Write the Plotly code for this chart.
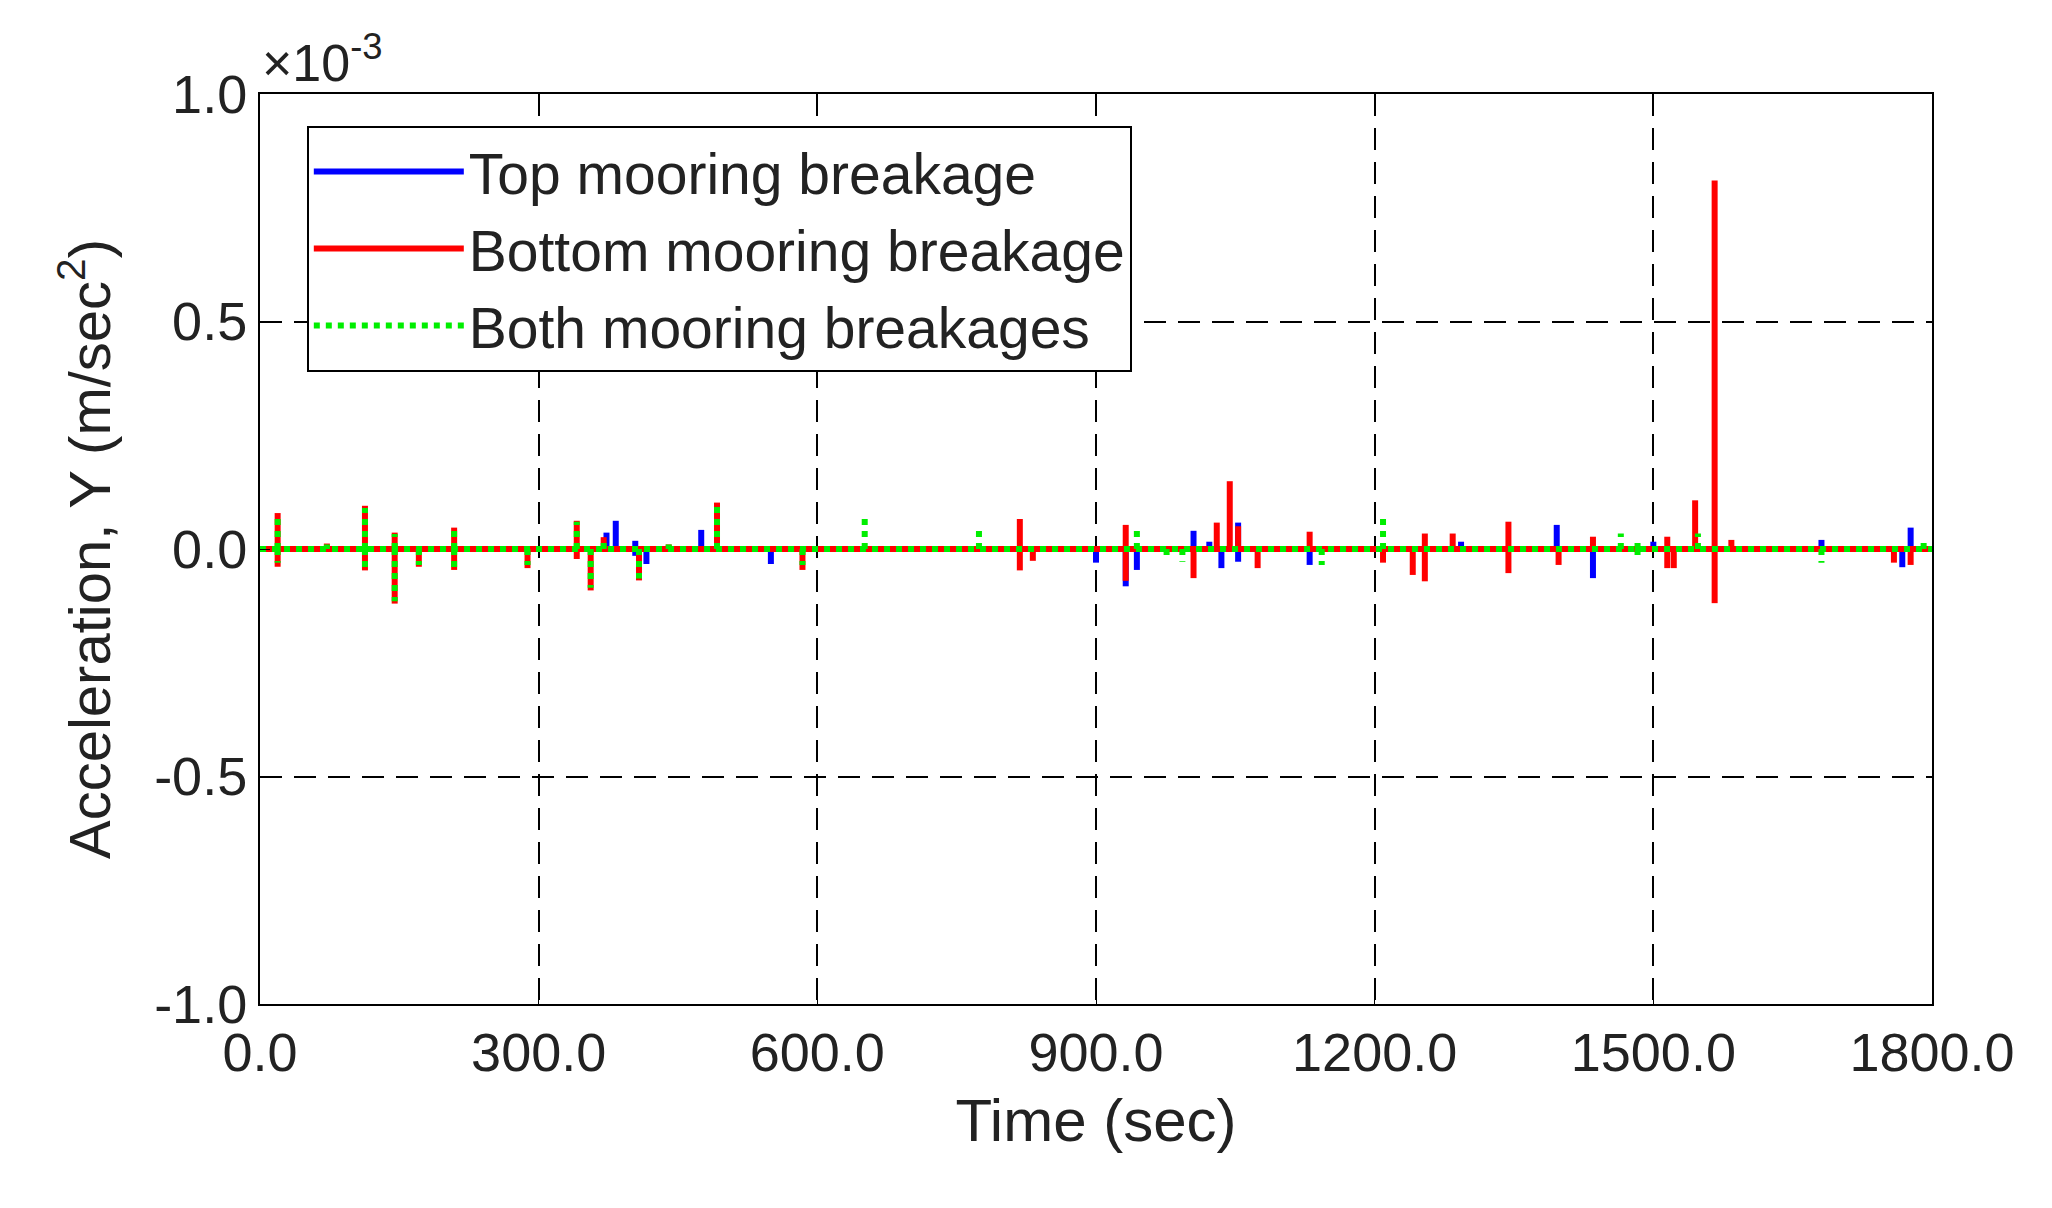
import numpy as np
import plotly.graph_objects as go

# spike times (sec) and peak accelerations (x1e-3 m/s^2)
top_t = [373, 383, 404, 404, 416, 475, 550, 900, 932, 944, 1005, 1022, 1035, 1053, 1053,
         1130, 1293, 1396, 1435, 1500, 1681, 1768, 1777]
top_v = [0.036, 0.062, 0.018, -0.015, -0.033, 0.042, -0.033, -0.03, -0.082, -0.046, 0.04, 0.016,
         -0.042, 0.058, -0.028, -0.035, 0.016, 0.053, -0.064, 0.016, 0.02, -0.04, 0.047]

bot_t = [19, 19, 72, 113, 113, 145, 145, 171, 209, 209, 288, 341, 341, 356, 370, 408, 440,
         492, 584, 818, 818, 832, 932, 932, 1005, 1030, 1044, 1053, 1074, 1130, 1209,
         1241, 1254, 1254, 1284, 1344, 1344, 1398, 1435, 1515, 1515, 1522, 1545, 1566,
         1566, 1584, 1759, 1777]
bot_v = [0.079, -0.039, 0.012, 0.095, -0.047, -0.12, 0.036, -0.039, 0.047, -0.046, -0.042,
         0.062, -0.022, -0.091, 0.026, -0.069, 0.01, 0.102, -0.046, 0.066, -0.047, -0.026,
         0.053, -0.07, -0.064, 0.058, 0.149, 0.05, -0.042, 0.038, -0.03, -0.057, 0.034,
         -0.071, 0.034, 0.06, -0.053, -0.035, 0.027, 0.027, -0.042, -0.042, 0.107, 0.81,
         -0.119, 0.02, -0.03, -0.035]

both_t = [19, 19, 72, 113, 113, 145, 145, 171, 209, 209, 288, 341, 356, 370, 408, 440, 492,
          584, 651, 774, 944, 976, 993, 1143, 1209, 1465, 1483, 1483, 1548, 1681, 1791]
both_v = [0.07, -0.03, 0.01, 0.09, -0.045, -0.115, 0.033, -0.035, 0.045, -0.042, -0.035,
          0.06, -0.085, 0.02, -0.065, 0.01, 0.1, -0.035, 0.073, 0.049, 0.045, -0.02, -0.028,
          -0.035, 0.071, 0.034, 0.02, -0.018, 0.034, -0.03, 0.02]

y_ticks = [-1, -0.5, 0, 0.5, 1]
y_labels = ["-1.0", "-0.5", "0.0", "0.5", "1.0"]
x_ticks = [0, 300, 600, 900, 1200, 1500, 1800]


def spikes(t, v):
    xs, ys = [0.0, 1800.0, None], [0.0, 0.0, None]
    for ti, vi in sorted(zip(t, v)):
        xs += [ti, ti, None]
        ys += [0.0, vi, None]
    return xs, ys


fig = go.Figure()
series = [("Top mooring breakage", top_t, top_v, "#0000ff", "solid"),
          ("Bottom mooring breakage", bot_t, bot_v, "#ff0000", "solid"),
          ("Both mooring breakages", both_t, both_v, "#00ee00", "dot")]
for name, t, v, col, dash in series:
    x, y = spikes(t, v)
    fig.add_trace(go.Scatter(x=x, y=y, mode="lines", name=name,
                             line=dict(color=col, width=6, dash=dash)))

font = "Liberation Sans, Arial, sans-serif"
ax = dict(showline=True, linecolor="black", linewidth=2, mirror=True, ticks="inside",
          ticklen=10, tickcolor="black", showgrid=True, gridcolor="black", gridwidth=2,
          griddash="22px,12px", zeroline=False, tickfont=dict(size=54, color="#222"),
          tickformat=".1f")
fig.update_xaxes(ax, range=[0, 1800], tickvals=x_ticks,
                 title=dict(text="Time (sec)", font=dict(size=60, color="#222"), standoff=18))
fig.update_yaxes(ax, range=[-1, 1], tickvals=y_ticks, ticktext=y_labels,
                 title=dict(text="Acceleration, Y (m/sec<sup>2</sup>)",
                            font=dict(size=58, color="#222"), standoff=25))
fig.add_annotation(xref="paper", yref="paper", x=0.0, y=1.0, xanchor="left", yanchor="bottom",
                   showarrow=False, text="×10<sup>-3</sup>", font=dict(size=52, color="#222"))
fig.update_layout(
    width=2052, height=1208, template="simple_white", font=dict(family=font),
    plot_bgcolor="white", paper_bgcolor="white",
    margin=dict(l=252, r=128, t=86, b=212),
    legend=dict(x=0.028, y=0.965, xanchor="left", yanchor="top", bgcolor="white",
                bordercolor="black", borderwidth=2, font=dict(size=57, color="#222"),
                itemwidth=150, tracegroupgap=6),
)
fig.write_html("out.html")
